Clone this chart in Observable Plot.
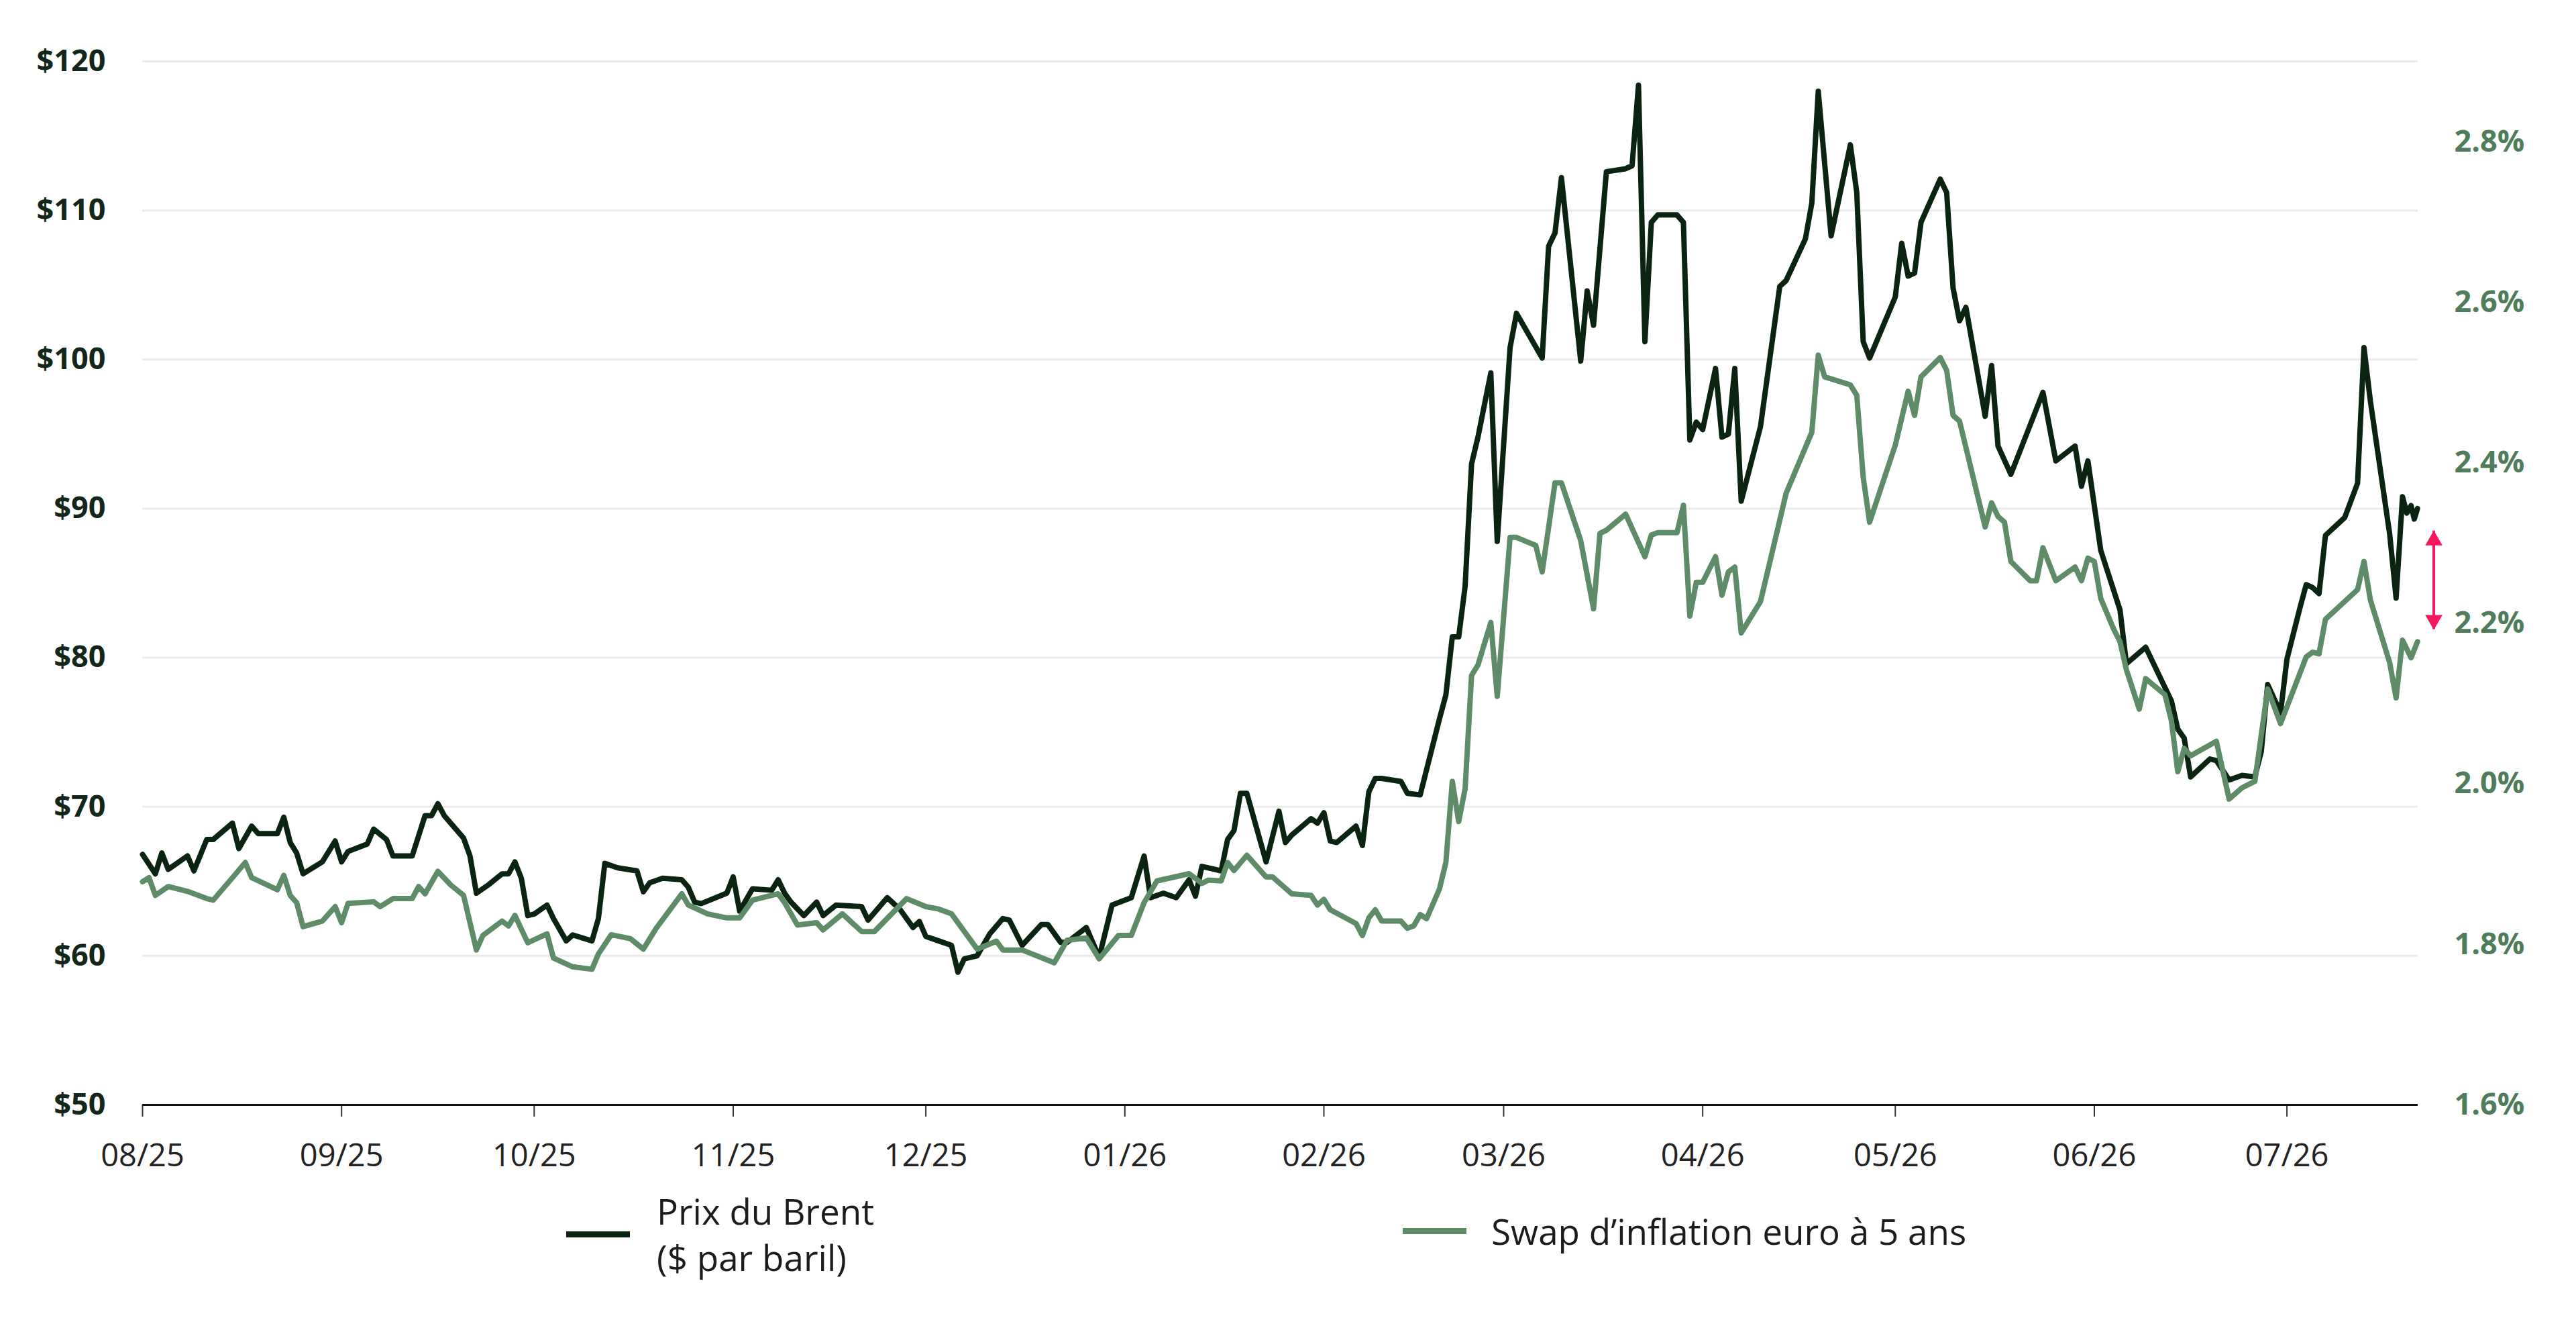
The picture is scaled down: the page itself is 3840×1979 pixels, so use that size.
<!DOCTYPE html>
<html>
<head>
<meta charset="utf-8">
<script src="https://cdn.jsdelivr.net/npm/d3@7"></script>
<script src="https://cdn.jsdelivr.net/npm/@observablehq/plot@0.6"></script>
<style>
  html, body { margin: 0; padding: 0; background: #fff; }
  #wrap { position: relative; width: 3840px; height: 1979px; background: #fff; font-family: 'Open Sans', sans-serif; }
  #chart svg { display: block; }
  .leg { position: absolute; display: flex; align-items: center; color: #1c1c1c; font-size: 53px; line-height: 69px; }
  .sw { display: inline-block; width: 95px; height: 9px; }
</style>
</head>
<body>
<div id="wrap">
  <div id="chart"></div>
  <div class="leg" style="left:844px; top:1770px;">
    <span class="sw" style="background:#0b2412"></span>
    <span style="margin-left:40px">Prix du Brent<br>($ par baril)</span>
  </div>
  <div class="leg" style="left:2091px; top:1800px;">
    <span class="sw" style="background:#5e8b68"></span>
    <span style="margin-left:37px">Swap d’inflation euro à 5 ans</span>
  </div>
</div>
<script>
// ---- Data ----
const brentDomain = [50, 120];
const swapDomain = [1.6, 2.9];
const leftTicks = [50, 60, 70, 80, 90, 100, 110, 120];
const rightTicks = [1.6, 1.8, 2.0, 2.2, 2.4, 2.6, 2.8];
const monthTickFormat = "%m/%y";

// Prix du Brent ($ par baril)
const brent = [
["2025-08-01",66.8],["2025-08-03",65.5],["2025-08-04",66.9],["2025-08-05",65.8],["2025-08-08",66.7],["2025-08-09",65.7],
["2025-08-11",67.8],["2025-08-12",67.8],["2025-08-15",68.9],["2025-08-16",67.2],["2025-08-18",68.7],["2025-08-19",68.2],
["2025-08-22",68.2],["2025-08-23",69.3],["2025-08-24",67.6],["2025-08-25",66.9],["2025-08-26",65.5],["2025-08-29",66.3],
["2025-08-31",67.7],["2025-09-01",66.3],["2025-09-02",67.0],["2025-09-05",67.5],["2025-09-06",68.5],["2025-09-08",67.8],
["2025-09-09",66.7],["2025-09-12",66.7],["2025-09-14",69.4],["2025-09-15",69.4],["2025-09-16",70.2],["2025-09-17",69.4],
["2025-09-20",67.9],["2025-09-21",66.7],["2025-09-22",64.2],["2025-09-24",64.8],["2025-09-26",65.5],["2025-09-27",65.5],
["2025-09-28",66.3],["2025-09-29",65.2],["2025-09-30",62.7],["2025-10-01",62.8],["2025-10-03",63.4],["2025-10-04",62.5],
["2025-10-06",61.0],["2025-10-07",61.4],["2025-10-10",61.0],["2025-10-11",62.5],["2025-10-12",66.2],["2025-10-14",65.9],
["2025-10-17",65.7],["2025-10-18",64.3],["2025-10-19",64.9],["2025-10-21",65.2],["2025-10-24",65.1],["2025-10-25",64.6],
["2025-10-26",63.6],["2025-10-27",63.5],["2025-10-31",64.2],["2025-11-01",65.3],["2025-11-02",63.0],["2025-11-04",64.5],
["2025-11-07",64.4],["2025-11-08",65.1],["2025-11-09",64.2],["2025-11-10",63.6],["2025-11-12",62.7],["2025-11-14",63.6],
["2025-11-15",62.7],["2025-11-17",63.4],["2025-11-21",63.3],["2025-11-22",62.4],["2025-11-25",63.9],["2025-11-27",63.1],
["2025-11-29",61.9],["2025-11-30",62.3],["2025-12-01",61.3],["2025-12-03",61.0],["2025-12-05",60.7],["2025-12-06",58.9],
["2025-12-07",59.8],["2025-12-09",60.0],["2025-12-11",61.5],["2025-12-13",62.5],["2025-12-14",62.4],["2025-12-16",60.7],
["2025-12-19",62.1],["2025-12-20",62.1],["2025-12-22",60.9],["2025-12-23",60.9],["2025-12-26",61.9],["2025-12-28",59.9],
["2025-12-30",63.4],["2026-01-02",63.9],["2026-01-04",66.7],["2026-01-05",63.9],["2026-01-07",64.2],["2026-01-09",63.9],
["2026-01-11",65.1],["2026-01-12",64.0],["2026-01-13",66.0],["2026-01-16",65.7],["2026-01-17",67.8],["2026-01-18",68.4],
["2026-01-19",70.9],["2026-01-20",70.9],["2026-01-23",66.3],["2026-01-25",69.7],["2026-01-26",67.6],["2026-01-27",68.1],
["2026-01-30",69.2],["2026-01-31",68.9],["2026-02-01",69.6],["2026-02-02",67.7],["2026-02-03",67.6],["2026-02-06",68.7],
["2026-02-07",67.4],["2026-02-08",71.0],["2026-02-09",71.9],["2026-02-10",71.9],["2026-02-13",71.7],["2026-02-14",70.9],
["2026-02-16",70.8],["2026-02-17",72.5],["2026-02-19",75.9],["2026-02-20",77.5],["2026-02-21",81.4],["2026-02-22",81.4],
["2026-02-23",84.8],["2026-02-24",93.0],["2026-02-25",94.8],["2026-02-27",99.1],["2026-02-28",87.8],["2026-03-02",100.8],
["2026-03-03",103.1],["2026-03-07",100.1],["2026-03-08",107.6],["2026-03-09",108.5],["2026-03-10",112.2],["2026-03-13",99.9],
["2026-03-14",104.6],["2026-03-15",102.3],["2026-03-17",112.6],["2026-03-20",112.8],["2026-03-21",113.0],["2026-03-22",118.4],
["2026-03-23",101.2],["2026-03-24",109.2],["2026-03-25",109.7],["2026-03-28",109.7],["2026-03-29",109.2],["2026-03-30",94.6],
["2026-03-31",95.8],["2026-04-01",95.3],["2026-04-03",99.4],["2026-04-04",94.8],["2026-04-05",95.0],["2026-04-06",99.4],
["2026-04-07",90.5],["2026-04-10",95.5],["2026-04-13",104.9],["2026-04-14",105.3],["2026-04-17",108.1],["2026-04-18",110.5],
["2026-04-19",118.0],["2026-04-21",108.3],["2026-04-24",114.4],["2026-04-25",111.2],["2026-04-26",101.2],["2026-04-27",100.1],
["2026-05-01",104.2],["2026-05-02",107.8],["2026-05-03",105.6],["2026-05-04",105.8],["2026-05-05",109.2],["2026-05-08",112.1],
["2026-05-09",111.2],["2026-05-10",104.8],["2026-05-11",102.6],["2026-05-12",103.5],["2026-05-15",96.2],["2026-05-16",99.6],
["2026-05-17",94.2],["2026-05-19",92.3],["2026-05-24",97.8],["2026-05-26",93.2],["2026-05-29",94.2],["2026-05-30",91.5],
["2026-05-31",93.2],["2026-06-02",87.2],["2026-06-05",83.2],["2026-06-06",79.6],["2026-06-09",80.7],["2026-06-13",77.1],
["2026-06-14",75.2],["2026-06-15",74.6],["2026-06-16",72.0],["2026-06-19",73.2],["2026-06-20",73.1],["2026-06-22",71.8],
["2026-06-24",72.1],["2026-06-26",72.0],["2026-06-27",73.7],["2026-06-28",78.2],["2026-06-30",76.3],["2026-07-01",79.9],
["2026-07-03",83.3],["2026-07-04",84.9],["2026-07-05",84.7],["2026-07-06",84.3],["2026-07-07",88.2],["2026-07-10",89.4],
["2026-07-12",91.7],["2026-07-13",100.8],["2026-07-14",97.2],["2026-07-17",88.3],["2026-07-18",84.0],["2026-07-19",90.8],
["2026-07-19T16:00Z",89.7],["2026-07-20T08:00Z",90.2],["2026-07-20T20:00Z",89.3],["2026-07-21T08:00Z",90.0]
];

// Swap d'inflation euro à 5 ans (%)
const swap = [
["2025-08-01",1.878],["2025-08-02",1.883],["2025-08-03",1.861],["2025-08-05",1.872],["2025-08-08",1.866],["2025-08-11",1.857],
["2025-08-12",1.855],["2025-08-15",1.883],["2025-08-17",1.902],["2025-08-18",1.883],["2025-08-22",1.868],["2025-08-23",1.886],
["2025-08-24",1.861],["2025-08-25",1.852],["2025-08-26",1.822],["2025-08-29",1.829],["2025-08-31",1.847],["2025-09-01",1.827],
["2025-09-02",1.851],["2025-09-06",1.853],["2025-09-07",1.847],["2025-09-09",1.857],["2025-09-12",1.857],["2025-09-13",1.872],
["2025-09-14",1.863],["2025-09-16",1.891],["2025-09-18",1.874],["2025-09-20",1.861],["2025-09-21",1.827],["2025-09-22",1.793],
["2025-09-23",1.811],["2025-09-26",1.829],["2025-09-27",1.823],["2025-09-28",1.836],["2025-09-30",1.802],["2025-10-03",1.813],
["2025-10-04",1.783],["2025-10-07",1.772],["2025-10-10",1.769],["2025-10-11",1.788],["2025-10-13",1.812],["2025-10-16",1.807],
["2025-10-18",1.794],["2025-10-20",1.820],["2025-10-24",1.863],["2025-10-25",1.849],["2025-10-28",1.838],["2025-10-31",1.833],
["2025-11-02",1.833],["2025-11-04",1.855],["2025-11-08",1.863],["2025-11-09",1.852],["2025-11-11",1.824],["2025-11-14",1.827],
["2025-11-15",1.818],["2025-11-18",1.838],["2025-11-21",1.816],["2025-11-23",1.816],["2025-11-28",1.857],["2025-12-01",1.847],
["2025-12-03",1.844],["2025-12-05",1.838],["2025-12-09",1.794],["2025-12-12",1.804],["2025-12-13",1.793],["2025-12-16",1.793],
["2025-12-21",1.777],["2025-12-23",1.805],["2025-12-26",1.808],["2025-12-28",1.782],["2025-12-31",1.811],["2026-01-02",1.811],
["2026-01-04",1.852],["2026-01-06",1.879],["2026-01-11",1.888],["2026-01-13",1.876],["2026-01-14",1.880],["2026-01-16",1.879],
["2026-01-17",1.902],["2026-01-18",1.892],["2026-01-20",1.911],["2026-01-23",1.884],["2026-01-24",1.884],["2026-01-27",1.863],
["2026-01-30",1.861],["2026-01-31",1.849],["2026-02-01",1.856],["2026-02-02",1.843],["2026-02-06",1.826],["2026-02-07",1.811],
["2026-02-08",1.833],["2026-02-09",1.843],["2026-02-10",1.829],["2026-02-13",1.829],["2026-02-14",1.820],["2026-02-15",1.823],
["2026-02-16",1.837],["2026-02-17",1.832],["2026-02-19",1.869],["2026-02-20",1.902],["2026-02-21",2.003],["2026-02-22",1.953],
["2026-02-23",1.994],["2026-02-24",2.135],["2026-02-25",2.148],["2026-02-27",2.201],["2026-02-28",2.109],["2026-03-02",2.307],
["2026-03-03",2.307],["2026-03-06",2.297],["2026-03-07",2.264],["2026-03-09",2.375],["2026-03-10",2.375],["2026-03-13",2.303],
["2026-03-15",2.218],["2026-03-16",2.312],["2026-03-17",2.316],["2026-03-20",2.336],["2026-03-23",2.283],["2026-03-24",2.310],
["2026-03-25",2.313],["2026-03-28",2.313],["2026-03-29",2.347],["2026-03-30",2.209],["2026-03-31",2.251],["2026-04-01",2.251],
["2026-04-03",2.283],["2026-04-04",2.235],["2026-04-05",2.264],["2026-04-06",2.270],["2026-04-07",2.188],["2026-04-10",2.227],
["2026-04-14",2.362],["2026-04-18",2.438],["2026-04-19",2.534],["2026-04-20",2.507],["2026-04-24",2.497],["2026-04-25",2.484],
["2026-04-26",2.382],["2026-04-27",2.326],["2026-05-01",2.422],["2026-05-03",2.489],["2026-05-04",2.459],["2026-05-05",2.507],
["2026-05-08",2.531],["2026-05-09",2.515],["2026-05-10",2.459],["2026-05-11",2.452],["2026-05-15",2.320],["2026-05-16",2.350],
["2026-05-17",2.333],["2026-05-18",2.326],["2026-05-19",2.277],["2026-05-22",2.253],["2026-05-23",2.253],["2026-05-24",2.294],
["2026-05-26",2.253],["2026-05-29",2.270],["2026-05-30",2.253],["2026-05-31",2.281],["2026-06-01",2.277],["2026-06-02",2.231],
["2026-06-04",2.193],["2026-06-05",2.177],["2026-06-06",2.142],["2026-06-08",2.093],["2026-06-09",2.131],["2026-06-12",2.111],
["2026-06-13",2.079],["2026-06-14",2.015],["2026-06-15",2.044],["2026-06-16",2.035],["2026-06-20",2.053],["2026-06-22",1.981],
["2026-06-24",1.995],["2026-06-26",2.003],["2026-06-28",2.118],["2026-06-30",2.075],["2026-07-04",2.158],["2026-07-05",2.164],
["2026-07-06",2.162],["2026-07-07",2.205],["2026-07-12",2.242],["2026-07-13",2.277],["2026-07-14",2.229],["2026-07-17",2.151],
["2026-07-18",2.107],["2026-07-19",2.179],["2026-07-19T16:00Z",2.168],["2026-07-20T08:00Z",2.157],["2026-07-21T08:00Z",2.177]
];

// Red double arrow annotation (in $ units of the left axis), just right of the last observation
const arrowNote = [{date: "2026-07-23T21:00Z", top: 88.5, bottom: 81.9}];
const xDomain = ["2025-08-01", "2026-07-21T10:00Z"];

// ---- Build ----
const parse = s => new Date(s.length === 10 ? s + "T00:00Z" : s);
const k = (brentDomain[1] - brentDomain[0]) / (swapDomain[1] - swapDomain[0]);
const swapToBrent = s => brentDomain[0] + (s - swapDomain[0]) * k;
const brentToSwap = b => swapDomain[0] + (b - brentDomain[0]) / k;

const brentData = brent.map(([d, v]) => ({date: parse(d), value: v}));
const swapData = swap.map(([d, v]) => ({date: parse(d), value: v}));
const arrows = arrowNote.map(a => ({date: parse(a.date), top: a.top, bottom: a.bottom}));

const BLACK = "#0b2412", GREEN = "#5e8b68", RED = "#f5195b";

const chart = Plot.plot({
  width: 3840,
  height: 1760,
  marginLeft: 212,
  marginRight: 236,
  marginTop: 91,
  marginBottom: 114,
  style: {fontFamily: "'Open Sans', sans-serif", background: "#fff", overflow: "visible"},
  x: {type: "utc", domain: xDomain.map(parse)},
  y: {domain: brentDomain},
  marks: [
    Plot.ruleY(leftTicks.filter(t => t > brentDomain[0]), {stroke: "#ebebeb", strokeWidth: 3}),
    Plot.axisY({anchor: "left", ticks: leftTicks, tickFormat: d => "$" + d, tickSize: 0, tickPadding: 55,
      fontSize: 45, fontWeight: "bold", fill: "#13261a", label: null}),
    Plot.axisY({anchor: "right", ticks: rightTicks.map(swapToBrent), tickFormat: b => brentToSwap(b).toFixed(1) + "%",
      tickSize: 0, tickPadding: 54, fontSize: 45, fontWeight: "bold", fill: "#4f7d5b", label: null}),
    Plot.axisX({ticks: d3.utcMonth.every(1), tickFormat: d3.utcFormat(monthTickFormat), tickSize: 18, tickPadding: 40,
      fontSize: 47, fill: "#222", stroke: "#333", strokeWidth: 2, label: null}),
    Plot.ruleY([brentDomain[0]], {stroke: "#111", strokeWidth: 3}),
    Plot.lineY(brentData, {x: "date", y: "value", stroke: BLACK, strokeWidth: 8, strokeLinejoin: "round"}),
    Plot.lineY(swapData, {x: "date", y: d => swapToBrent(d.value), stroke: GREEN, strokeWidth: 8, strokeLinejoin: "round"}),
    Plot.ruleX(arrows, {x: "date", y1: "top", y2: "bottom", stroke: RED, strokeWidth: 4}),
    Plot.dot(arrows, {x: "date", y: "top", symbol: "triangle", r: 9.5, fill: RED, stroke: null, dy: 14}),
    Plot.dot(arrows, {x: "date", y: "bottom", symbol: "triangle", r: 9.5, fill: RED, stroke: null, dy: -14, rotate: 180})
  ]
});
document.getElementById("chart").appendChild(chart);
</script>
</body>
</html>
